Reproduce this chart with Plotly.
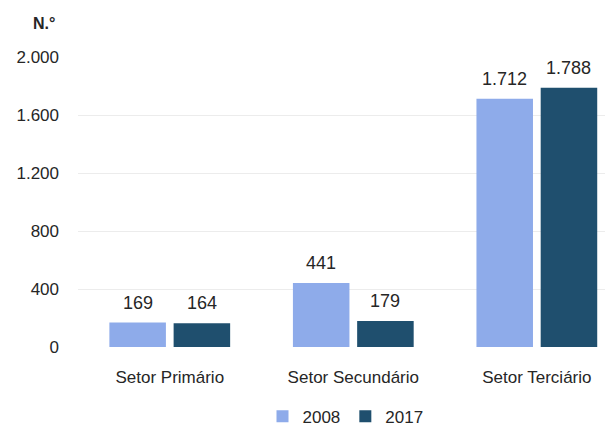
import plotly.graph_objects as go

categories = ["Setor Primário", "Setor Secundário", "Setor Terciário"]
values_2008 = [169, 441, 1712]
values_2017 = [164, 179, 1788]
y_ticks = [0, 400, 800, 1200, 1600, 2000]

FONT = "Liberation Sans, Arial, sans-serif"
TXT = "#262626"
BARGAP = 0.3

series = [("2008", values_2008, "#8eabea"), ("2017", values_2017, "#1f4f6e")]

fig = go.Figure()
annotations = []
for i, (name, vals, color) in enumerate(series):
    fig.add_trace(go.Bar(
        name=name, x=categories, y=vals, marker_color=color, marker_line_width=0,
    ))
    off = (i - 0.5) * (1 - BARGAP) / 2
    for j, v in enumerate(vals):
        annotations.append(dict(
            x=j + off, y=v, xref="x", yref="y", text=f"{v:,}".replace(",", "."),
            showarrow=False, yanchor="bottom", yshift=8,
            font=dict(family=FONT, size=18, color=TXT)))

annotations.append(dict(text="<b>N.°</b>", xref="paper", yref="paper", x=-0.04, y=1.115,
                        xanchor="right", yanchor="middle", showarrow=False,
                        font=dict(family=FONT, size=16, color=TXT)))

fig.update_layout(
    width=605, height=422,
    margin=dict(l=70, r=0, t=49, b=83, autoexpand=False),
    paper_bgcolor="white", plot_bgcolor="white",
    separators=",.",
    barmode="group", bargap=BARGAP, bargroupgap=0.12,
    font=dict(family=FONT, size=16, color=TXT),
    showlegend=True,
    legend=dict(orientation="h", x=0.5, xanchor="center", y=-0.24, yanchor="middle",
                font=dict(family=FONT, size=17, color=TXT), itemwidth=30,
                traceorder="normal"),
    xaxis=dict(range=[-0.5, 2.415], showgrid=False, zeroline=False, showline=False,
               ticks="", ticklabelstandoff=18,
               tickfont=dict(family=FONT, size=17, color=TXT)),
    yaxis=dict(range=[0, 2000], tickvals=y_ticks, tickformat=",d",
               showgrid=True, gridcolor="#ececec", gridwidth=1,
               zeroline=False, showline=False, ticks="", ticklabelstandoff=18,
               tickfont=dict(family=FONT, size=17, color=TXT)),
    annotations=annotations,
)

fig.write_html("out.html")
